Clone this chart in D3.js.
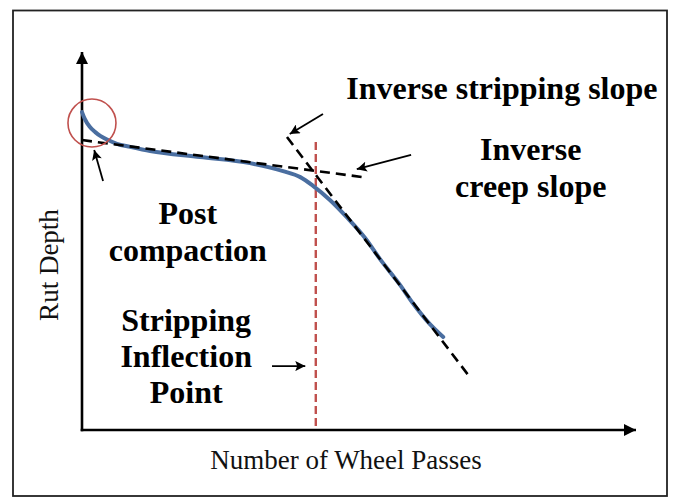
<!DOCTYPE html>
<html>
<head>
<meta charset="utf-8">
<script src="https://cdn.jsdelivr.net/npm/d3@7"></script>
<style>
  html, body { margin: 0; padding: 0; background: #fff; }
  svg { display: block; }
  .bold-label { font-family: "Liberation Serif", "Times New Roman", serif; font-weight: bold; font-size: 32px; fill: #000; }
  .axis-title { font-family: "Liberation Serif", "Times New Roman", serif; font-size: 27px; fill: #111; }
</style>
</head>
<body>
<div id="chart"></div>
<script>
// Rut depth curve (schematic units, 0-100 on both axes)
const curveX = [0, 0.5, 1.4, 2.4, 3.3, 4.7, 6.3, 8.7, 12.3, 21.3, 30.3, 36.3, 39.4, 41.7, 44.8, 47.8, 51.1, 53.8, 57.4, 59.7, 62.8, 65.2];
const curveY = [84.1, 82.3, 80.2, 78.8, 77.8, 76.7, 75.7, 74.9, 73.8, 72.2, 70.6, 68.5, 66.9, 64.6, 60.8, 56.3, 50.8, 45.2, 38.4, 33.6, 28.0, 24.6];

// tangent lines: [x1, y1, x2, y2]
const creepLine = [0, 76.7, 50.7, 66.9];
const strippingLine = [37.0, 77.5, 70.0, 14.0];

// stripping inflection point
const inflectionX = 42.2;
const inflectionTop = 76.2;

// post-compaction marker
const circleCenter = [1.8, 81.2];

// annotation arrows: [tailX, tailY, tipX, tipY]
const arrows = [
  [3.8, 65.9, 2.2, 74.1],
  [43.5, 83.6, 37.5, 78.3],
  [59.4, 72.8, 49.6, 69.0],
  [34.3, 16.9, 40.3, 16.9]
];

// labels: [text, x, y]
const labelLines = [
  ["Inverse stripping slope", 75.8, 87.6],
  ["Inverse", 81.0, 71.4],
  ["creep slope", 81.0, 61.6],
  ["Post", 19.1, 54.5],
  ["compaction", 19.1, 44.7],
  ["Stripping", 18.8, 26.2],
  ["Inflection", 18.8, 16.7],
  ["Point", 18.8, 7.1]
];

const xTitle = "Number of Wheel Passes";
const yTitle = "Rut Depth";

const width = 673, height = 500;
const ax = { left: 82, right: 636, top: 52, bottom: 430 };

const svg = d3.select("#chart").append("svg")
  .attr("width", width)
  .attr("height", height);

// frame
svg.append("rect")
  .attr("x", 13).attr("y", 10.5)
  .attr("width", 654).attr("height", 485.5)
  .attr("fill", "none")
  .attr("stroke", "#222")
  .attr("stroke-width", 1.8);

const x = d3.scaleLinear().domain([0, 100]).range([ax.left, ax.right]);
const y = d3.scaleLinear().domain([0, 100]).range([ax.bottom, ax.top]);

const defs = svg.append("defs");
defs.append("marker")
  .attr("id", "axisHead")
  .attr("viewBox", "0 0 10 10")
  .attr("refX", 10).attr("refY", 5)
  .attr("markerUnits", "userSpaceOnUse")
  .attr("markerWidth", 16).attr("markerHeight", 12)
  .attr("orient", "auto")
  .append("path").attr("d", "M0,0L10,5L0,10z").attr("fill", "#000");

defs.append("marker")
  .attr("id", "noteHead")
  .attr("viewBox", "0 0 10 10")
  .attr("refX", 10).attr("refY", 5)
  .attr("markerUnits", "userSpaceOnUse")
  .attr("markerWidth", 13).attr("markerHeight", 10)
  .attr("orient", "auto")
  .append("path").attr("d", "M0,0L10,5L0,10L2,5z").attr("fill", "#000");

// axes (no ticks), arrows at the ends
const xAxis = svg.append("g")
  .attr("transform", `translate(0,${ax.bottom})`)
  .call(d3.axisBottom(x).tickValues([]).tickSizeOuter(0));
const yAxis = svg.append("g")
  .attr("transform", `translate(${ax.left},0)`)
  .call(d3.axisLeft(y).tickValues([]).tickSizeOuter(0));

[xAxis, yAxis].forEach(g => {
  g.select(".domain")
    .attr("stroke", "#000")
    .attr("stroke-width", 2.6);
});
xAxis.select(".domain").attr("d", `M${ax.left - 1.3},0H${ax.right}`).attr("marker-end", "url(#axisHead)");
yAxis.select(".domain").attr("d", `M0,${ax.bottom + 1.3}V${ax.top}`).attr("marker-end", "url(#axisHead)");

// red vertical dashed line
svg.append("line")
  .attr("x1", x(inflectionX)).attr("x2", x(inflectionX))
  .attr("y1", y(inflectionTop)).attr("y2", y(0))
  .attr("stroke", "#c0504d")
  .attr("stroke-width", 2.4)
  .attr("stroke-dasharray", "8,4");

// blue curve
const pts = curveX.map((d, i) => [d, curveY[i]]);
const line = d3.line()
  .x(d => x(d[0]))
  .y(d => y(d[1]))
  .curve(d3.curveMonotoneX);

svg.append("path")
  .datum(pts)
  .attr("d", line)
  .attr("fill", "none")
  .attr("stroke", "#4a6ea0")
  .attr("stroke-width", 4)
  .attr("stroke-linecap", "round");

// tangent lines
[creepLine, strippingLine].forEach(l => {
  svg.append("line")
    .attr("x1", x(l[0])).attr("y1", y(l[1]))
    .attr("x2", x(l[2])).attr("y2", y(l[3]))
    .attr("stroke", "#000")
    .attr("stroke-width", 2.6)
    .attr("stroke-dasharray", "10,6");
});

// circle around initial consolidation
svg.append("circle")
  .attr("cx", x(circleCenter[0]))
  .attr("cy", y(circleCenter[1]))
  .attr("r", 24)
  .attr("fill", "none")
  .attr("stroke", "#c0504d")
  .attr("stroke-width", 1.6);

// annotation arrows
arrows.forEach(a => {
  svg.append("line")
    .attr("x1", x(a[0])).attr("y1", y(a[1]))
    .attr("x2", x(a[2])).attr("y2", y(a[3]))
    .attr("stroke", "#000")
    .attr("stroke-width", 1.8)
    .attr("marker-end", "url(#noteHead)");
});

// labels
svg.selectAll("text.bold-label")
  .data(labelLines)
  .join("text")
  .attr("class", "bold-label")
  .attr("x", d => x(d[1]))
  .attr("y", d => y(d[2]))
  .attr("text-anchor", "middle")
  .text(d => d[0]);

svg.append("text")
  .attr("class", "axis-title")
  .attr("x", 346)
  .attr("y", 469)
  .attr("text-anchor", "middle")
  .text(xTitle);

svg.append("text")
  .attr("class", "axis-title")
  .attr("transform", `translate(58,${(ax.top + ax.bottom) / 2 + 24}) rotate(-90)`)
  .attr("text-anchor", "middle")
  .text(yTitle);
</script>
</body>
</html>
